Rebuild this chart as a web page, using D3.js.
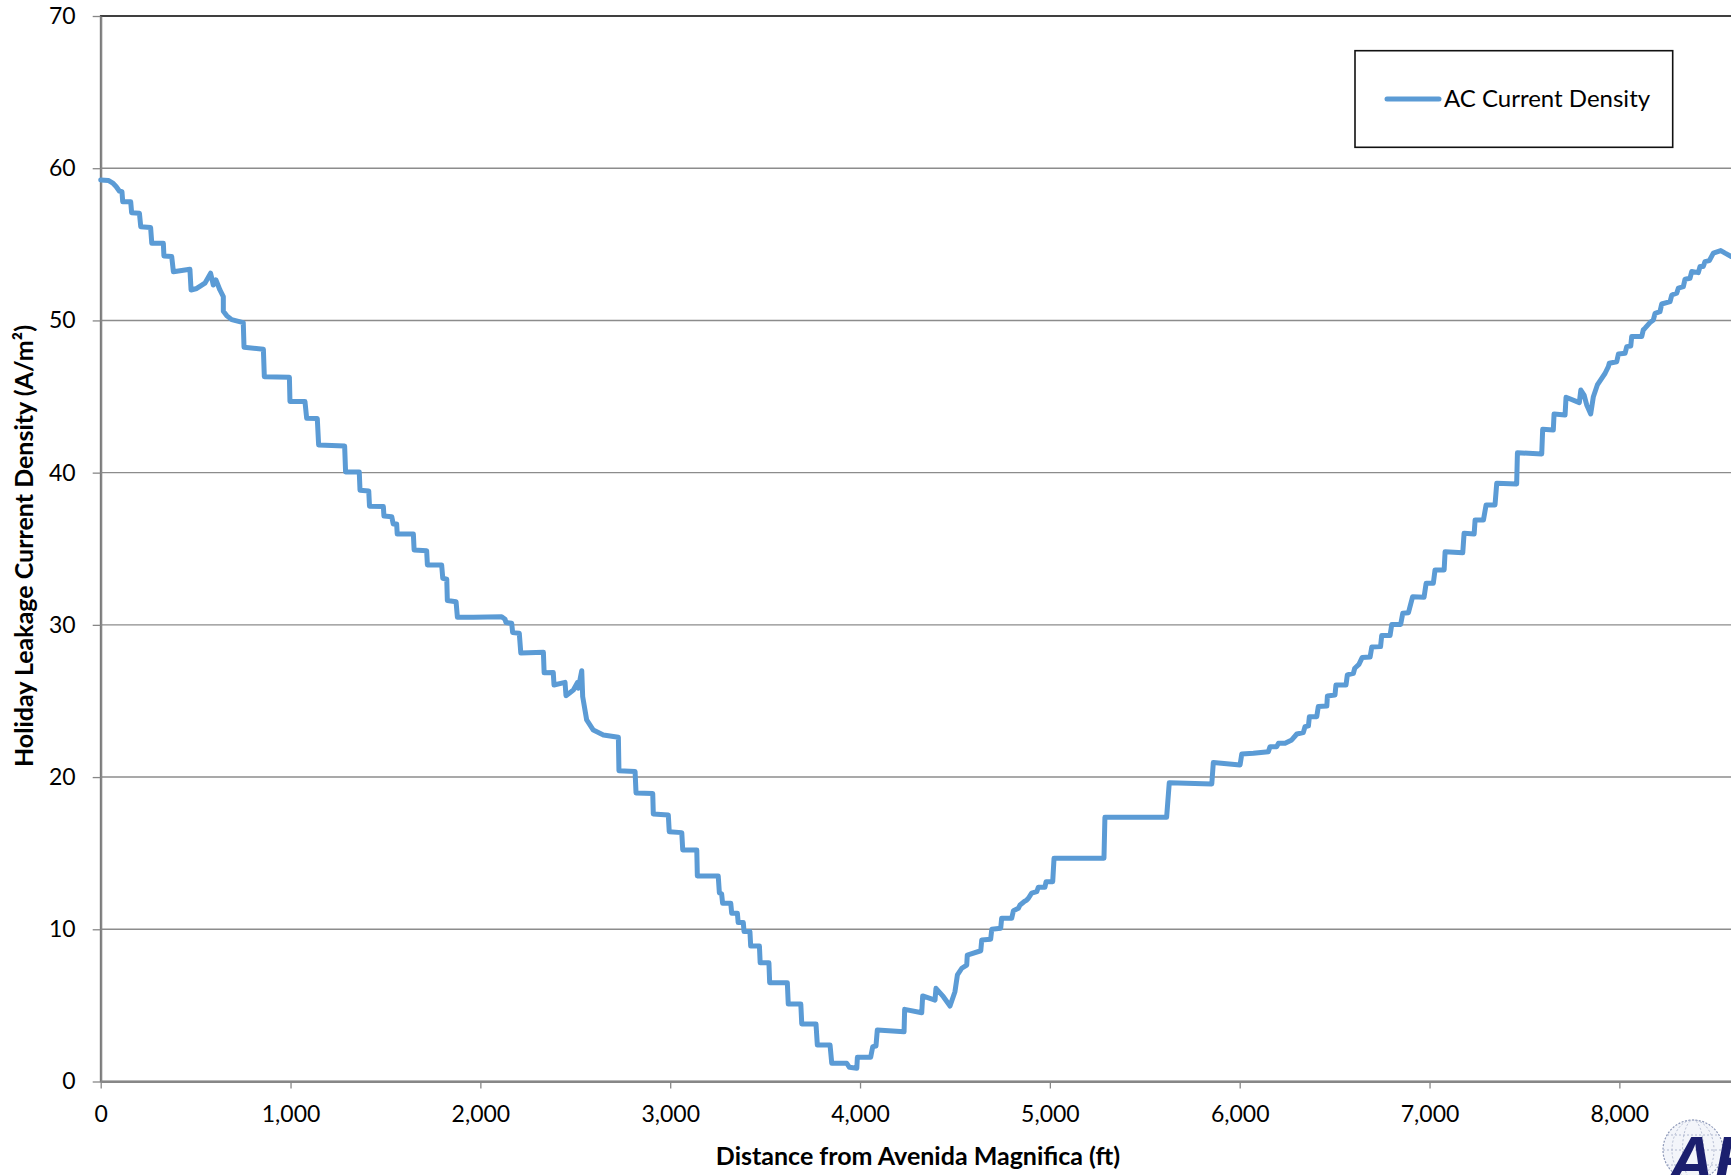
<!DOCTYPE html>
<html>
<head>
<meta charset="utf-8">
<script src="https://cdn.jsdelivr.net/npm/d3@7"></script>
<style>
  html, body { margin: 0; padding: 0; background: #fff; overflow: hidden; }
  svg { display: block; }
  text { font-family: Lato, "Open Sans", sans-serif; }
</style>
</head>
<body>
<svg id="chart" width="1731" height="1175"></svg>
<script>
// Distance along the pipeline (ft) and the computed AC leakage current density (A/m²)
const distanceFt = [
  0, 40, 66, 81, 98, 112, 116, 158, 163, 204, 211, 263, 269, 330, 333, 374, 383, 470, 476, 506,
  549, 579, 593, 607, 628, 646, 646, 665, 690, 751, 755, 857, 862, 994, 997, 1076, 1085, 1141, 1148, 1285,
  1290, 1362, 1366, 1412, 1416, 1489, 1492, 1533, 1541, 1559, 1562, 1647, 1651, 1717, 1721, 1796, 1802, 1823, 1826, 1872,
  1879, 1963, 2112, 2130, 2135, 2165, 2170, 2205, 2213, 2332, 2336, 2384, 2388, 2446, 2451, 2490, 2511, 2516, 2534, 2539,
  2560, 2595, 2648, 2727, 2730, 2815, 2820, 2908, 2911, 2990, 2995, 3061, 3066, 3140, 3143, 3253, 3259, 3271, 3276, 3319,
  3324, 3354, 3358, 3385, 3389, 3420, 3424, 3470, 3474, 3520, 3524, 3617, 3622, 3688, 3693, 3768, 3775, 3842, 3851, 3930,
  3944, 3983, 3986, 4056, 4067, 4084, 4091, 4232, 4235, 4325, 4330, 4395, 4400, 4439, 4474, 4500, 4513, 4536, 4562, 4565,
  4636, 4641, 4688, 4694, 4741, 4746, 4799, 4808, 4834, 4843, 4864, 4878, 4887, 4904, 4931, 4939, 4974, 4980, 5015, 5022,
  5285, 5290, 5615, 5629, 5853, 5861, 6002, 6011, 6072, 6151, 6160, 6195, 6204, 6239, 6274, 6301, 6335, 6344, 6362, 6367,
  6406, 6414, 6459, 6462, 6502, 6507, 6560, 6567, 6599, 6606, 6628, 6645, 6687, 6696, 6742, 6748, 6792, 6801, 6848, 6859,
  6889, 6911, 6971, 6982, 7020, 7029, 7077, 7082, 7175, 7182, 7235, 7240, 7284, 7298, 7345, 7354, 7459, 7463, 7591, 7596,
  7652, 7656, 7714, 7719, 7789, 7797, 7814, 7828, 7849, 7863, 7884, 7907, 7925, 7942, 7947, 7986, 7995, 8030, 8039, 8060,
  8065, 8118, 8126, 8135, 8161, 8179, 8188, 8214, 8223, 8267, 8276, 8302, 8311, 8337, 8346, 8372, 8381, 8416, 8425, 8442,
  8451, 8474, 8495, 8534, 8557, 8589, 8640
];
const acDensity = [
  59.23, 59.2, 59.0, 58.8, 58.5, 58.46, 57.8, 57.8, 57.08, 57.04, 56.16, 56.1, 55.07, 55.07, 54.24, 54.2, 53.2, 53.36, 52.0, 52.1,
  52.45, 53.1, 52.33, 52.66, 52.0, 51.56, 50.6, 50.3, 50.05, 49.86, 48.24, 48.1, 46.3, 46.27, 44.67, 44.67, 43.57, 43.55, 41.82, 41.75,
  40.05, 40.05, 38.85, 38.8, 37.8, 37.77, 37.15, 37.11, 36.63, 36.63, 35.97, 35.97, 34.92, 34.87, 33.94, 33.94, 33.06, 33.0, 31.6, 31.52,
  30.5, 30.5, 30.54, 30.37, 30.15, 30.1, 29.49, 29.45, 28.15, 28.2, 26.85, 26.87, 26.05, 26.22, 25.35, 25.72, 26.2, 25.83, 26.99, 25.28,
  23.75, 23.09, 22.77, 22.62, 20.42, 20.36, 18.96, 18.92, 17.58, 17.51, 16.41, 16.35, 15.21, 15.21, 13.5, 13.5, 12.4, 12.32, 11.71, 11.71,
  11.05, 11.05, 10.45, 10.45, 9.85, 9.85, 8.9, 8.9, 7.8, 7.8, 6.49, 6.49, 5.09, 5.09, 3.78, 3.78, 2.4, 2.4, 1.2, 1.2,
  0.93, 0.87, 1.59, 1.59, 2.29, 2.33, 3.38, 3.27, 4.74, 4.52, 5.62, 5.35, 6.12, 5.57, 4.96, 5.9, 7.0, 7.44, 7.65, 8.31,
  8.59, 9.3, 9.34, 10.0, 10.07, 10.72, 10.72, 11.22, 11.38, 11.6, 11.81, 11.92, 12.04, 12.37, 12.47, 12.76, 12.76, 13.13, 13.13, 14.67,
  14.67, 17.36, 17.36, 19.63, 19.55, 20.95, 20.8, 21.52, 21.56, 21.67, 22.0, 22.0, 22.22, 22.22, 22.44, 22.83, 22.92, 23.31, 23.36, 23.97,
  23.97, 24.63, 24.67, 25.33, 25.39, 26.05, 26.05, 26.71, 26.82, 27.15, 27.4, 27.85, 27.89, 28.55, 28.57, 29.3, 29.3, 30.03, 30.03, 30.76,
  30.8, 31.85, 31.81, 32.73, 32.73, 33.61, 33.61, 34.81, 34.74, 36.02, 35.97, 36.89, 36.89, 37.88, 37.88, 39.3, 39.26, 41.31, 41.23, 42.85,
  42.8, 43.86, 43.79, 44.95, 44.6, 45.43, 45.1, 44.45, 43.86, 44.99, 45.76, 46.2, 46.53, 46.96, 47.19, 47.29, 47.8, 47.84, 48.28, 48.32,
  48.94, 48.94, 49.38, 49.49, 49.86, 50.03, 50.47, 50.58, 51.08, 51.24, 51.67, 51.79, 52.12, 52.22, 52.71, 52.77, 53.21, 53.14, 53.54, 53.54,
  53.86, 53.93, 54.42, 54.59, 54.42, 54.2, 54.0
];
const xTicks = [0, 1000, 2000, 3000, 4000, 5000, 6000, 7000, 8000];
const yTicks = [0, 10, 20, 30, 40, 50, 60, 70];
const seriesName = "AC Current Density";
const xTitle = "Distance from Avenida Magnifica (ft)";
const yTitle = "Holiday Leakage Current Density (A/m\u00B2)";

const svg = d3.select("#chart");
const plot = { left: 100.7, top: 16, bottom: 1081.5, right: 1809.2 };

const x = d3.scaleLinear().domain([0, 9000]).range([plot.left, plot.right]);
const y = d3.scaleLinear().domain([0, 70]).range([plot.bottom, plot.top]);

const axisGrey = "#878787";
const lineBlue = "#5B9BD5";

// horizontal gridlines
svg.append("g").selectAll("line")
  .data(yTicks.filter(v => v > 0 && v < 70))
  .join("line")
  .attr("x1", plot.left).attr("x2", plot.right)
  .attr("y1", d => y(d)).attr("y2", d => y(d))
  .attr("stroke", "#8c8c8c").attr("stroke-width", 1.4);

// plot-area border
svg.append("rect")
  .attr("x", plot.left).attr("y", plot.top)
  .attr("width", plot.right - plot.left).attr("height", plot.bottom - plot.top)
  .attr("fill", "none").attr("stroke", "#111").attr("stroke-width", 1.6);

// y axis
const yAxis = svg.append("g")
  .attr("transform", `translate(${plot.left},0)`)
  .call(d3.axisLeft(y).tickValues(yTicks).tickSize(8).tickPadding(17).tickSizeOuter(0));
// x axis
const xAxis = svg.append("g")
  .attr("transform", `translate(0,${plot.bottom})`)
  .call(d3.axisBottom(x).tickValues(xTicks).tickFormat(d3.format(",")).tickSize(7).tickPadding(17).tickSizeOuter(0));

[yAxis, xAxis].forEach(g => {
  g.select(".domain").attr("stroke", axisGrey).attr("stroke-width", 2.2);
  g.selectAll(".tick line").attr("stroke", axisGrey).attr("stroke-width", 1.3);
  g.selectAll(".tick text").attr("fill", "#000").style("font-size", "23px")
    .style("font-family", "Lato, 'Open Sans', sans-serif");
});

// series line
const line = d3.line()
  .x((d, i) => x(distanceFt[i]))
  .y((d, i) => y(acDensity[i]));
svg.append("path")
  .datum(acDensity)
  .attr("d", line)
  .attr("fill", "none")
  .attr("stroke", lineBlue)
  .attr("stroke-width", 5)
  .attr("stroke-linejoin", "round")
  .attr("stroke-linecap", "round");

// legend
const legend = svg.append("g");
legend.append("rect")
  .attr("x", 1355).attr("y", 50.7).attr("width", 317.7).attr("height", 96.6)
  .attr("fill", "#fff").attr("stroke", "#111").attr("stroke-width", 1.6);
legend.append("line")
  .attr("x1", 1387).attr("x2", 1439).attr("y1", 99).attr("y2", 99)
  .attr("stroke", lineBlue).attr("stroke-width", 5).attr("stroke-linecap", "round");
legend.append("text")
  .attr("x", 1444).attr("y", 99).attr("dy", "0.35em")
  .style("font-size", "24px").attr("fill", "#000")
  .text(seriesName);

// axis titles
svg.append("text")
  .attr("x", 918).attr("y", 1165)
  .attr("text-anchor", "middle")
  .style("font-size", "25px").style("font-weight", "bold")
  .text(xTitle);
svg.append("text")
  .attr("transform", "translate(33,546) rotate(-90)")
  .attr("text-anchor", "middle")
  .style("font-size", "25px").style("font-weight", "bold")
  .text(yTitle);

// company badge: globe with lettering, running off the lower-right corner
const badge = svg.append("g");
const cx = 1693, cy = 1150, r = 30;
badge.append("circle").attr("cx", cx).attr("cy", cy).attr("r", r)
  .attr("fill", "#f3f5fa").attr("stroke", "#8e99b8").attr("stroke-width", 1.2)
  .attr("stroke-dasharray", "2,1.5");
[0.35, 0.7].forEach(k => {
  badge.append("ellipse").attr("cx", cx).attr("cy", cy).attr("rx", r * k).attr("ry", r)
    .attr("fill", "none").attr("stroke", "#aab3cc").attr("stroke-width", 0.9).attr("stroke-dasharray", "2,2");
});
[-0.5, 0, 0.5].forEach(k => {
  const yy = cy + r * k, hw = Math.sqrt(1 - k * k) * r;
  badge.append("line").attr("x1", cx - hw).attr("x2", cx + hw).attr("y1", yy).attr("y2", yy)
    .attr("stroke", "#aab3cc").attr("stroke-width", 0.9).attr("stroke-dasharray", "2,2");
});
badge.append("text")
  .attr("x", 1668).attr("y", 1182)
  .style("font-family", "'Liberation Sans', Arial, sans-serif")
  .style("font-size", "64px").style("font-weight", "bold").style("font-style", "italic")
  .attr("fill", "#1b1f6e")
  .text("AR");
</script>
</body>
</html>
